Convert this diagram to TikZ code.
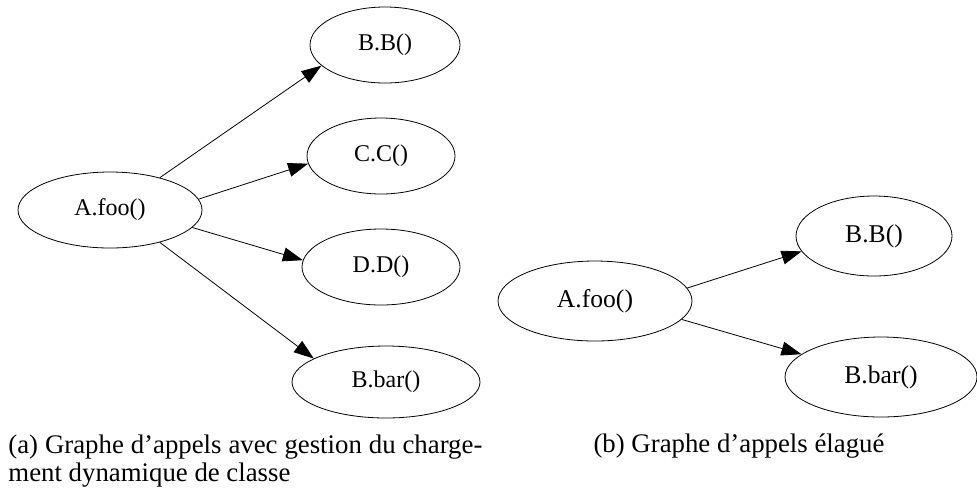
\documentclass[tikz,border=0pt]{standalone}
\usepackage{fontspec}
\setmainfont{Liberation Serif}
\usepackage{tikz}
\usetikzlibrary{shapes.geometric,arrows.meta}

\begin{document}
\begin{tikzpicture}[x=0.5pt,y=-0.5pt,
    fn/.style={draw=black,text=black,shape=ellipse,inner sep=0pt,minimum height=38pt,font=\fontsize{12}{14}\selectfont},
    fnb/.style={fn,minimum height=40pt,font=\fontsize{12.8}{15}\selectfont},
    >={Triangle[length=10pt,width=7pt]},thin]
                    \useasboundingbox (0,0) rectangle (977,488);
                    % (a)
                    \node[fn,minimum width=92pt] (foo) at (110,210) {A.foo()};
                    \node[fn,minimum width=75pt] (bb) at (385,45) {B.B()};
                    \node[fn,minimum width=74pt] (cc) at (381,156) {C.C()};
                    \node[fn,minimum width=79pt] (dd) at (381,267) {D.D()};
                    \node[fn,minimum width=94pt,minimum height=36pt] (bar) at (386,382) {B.bar()};

                    \draw[->] (foo.33) -- (bb.198);
                    \draw[->] (foo.7) -- (cc.186);
                    \draw[->] (foo.-12) -- (dd.175);
                    \draw[->] (foo.-33) -- (bar.162);

                    % (b)
                    \node[fnb,minimum width=97pt] (foo2) at (595,301) {A.foo()};
                    \node[fnb,minimum width=78pt] (bb2) at (874,236) {B.B()};
                    \node[fnb,minimum width=96pt] (bar2) at (881,377) {B.bar()};

                    \draw[->] (foo2.8) -- (bb2.192);
                    \draw[->] (foo2.-12) -- (bar2.164);

                    \node[anchor=north west,inner sep=0pt,text width=237pt,align=justify,font=\fontsize{13.4}{14}\selectfont] (capa) at (8,434)
                        {(a) Graphe d’appels avec gestion du charge-\linebreak ment dynamique de classe};
                    \node[anchor=base,inner sep=0pt,font=\fontsize{13.4}{14}\selectfont] (capb) at (739,452)
                        {(b) Graphe d’appels élagué};
                 \end{tikzpicture}
\end{document}
